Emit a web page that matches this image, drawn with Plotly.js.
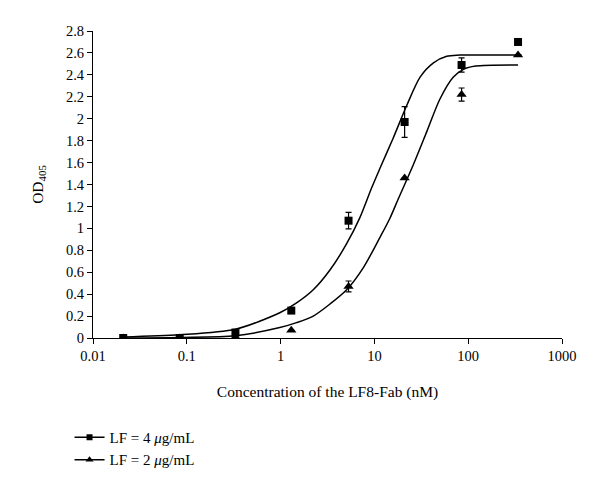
<!DOCTYPE html>
<html>
<head>
<meta charset="utf-8">
<script src="https://cdn.plot.ly/plotly-3.0.1.min.js"></script>
<style>
  body { margin: 0; background: #fff; }
  #chart { width: 600px; height: 488px; }
</style>
</head>
<body>
<div id="chart"></div>
<script>
// measured points (concentration in nM, OD405)
const conc = [0.021, 0.084, 0.33, 1.3, 5.3, 21, 85, 340];
const od4 = [0.0, 0.0, 0.05, 0.25, 1.07, 1.97, 2.49, 2.70];
const err4 = [0, 0, 0, 0, 0.075, 0.14, 0.065, 0.02];
const od2 = [0.0, 0.0, 0.01, 0.07, 0.47, 1.46, 2.22, 2.58];
const err2 = [0, 0, 0, 0, 0.05, 0, 0.06, 0];

// fitted curves
const fit4X = [0.021, 0.084, 0.33, 0.98, 1.48, 2.23, 3.36, 5.06, 7.02, 9.35, 11.5, 15.8, 22.1, 30.7, 42.6, 59, 81, 370];
const fit4Y = [0.01, 0.03, 0.08, 0.23, 0.32, 0.44, 0.62, 0.86, 1.10, 1.37, 1.55, 1.82, 2.12, 2.38, 2.51, 2.57, 2.58, 2.58];
const fit2X = [0.021, 0.084, 0.33, 0.98, 1.48, 2.23, 3.36, 5.06, 7.6, 11.5, 14.6, 18.0, 26.0, 36.1, 50, 69.5, 89, 120, 340];
const fit2Y = [0.0, 0.005, 0.02, 0.095, 0.14, 0.20, 0.31, 0.44, 0.64, 0.92, 1.09, 1.27, 1.58, 1.88, 2.18, 2.38, 2.45, 2.48, 2.49];

const xTicks = [0.01, 0.1, 1, 10, 100, 1000];
const xTickText = ['0.01', '0.1', '1', '10', '100', '1000'];

const font = 'Liberation Serif, Times New Roman, serif';

let traces = [
    {
        x: fit4X, y: fit4Y, mode: 'lines',
        line: {color: '#000', width: 1.5, shape: 'spline', smoothing: 0.8},
        showlegend: false, hoverinfo: 'skip'
    },
    {
        x: fit2X, y: fit2Y, mode: 'lines',
        line: {color: '#000', width: 1.5, shape: 'spline', smoothing: 0.8},
        showlegend: false, hoverinfo: 'skip'
    },
    {
        x: conc, y: od4, mode: 'markers',
        marker: {symbol: 'square', size: 8, color: '#000'},
        error_y: {type: 'data', array: err4, visible: true, color: '#000', thickness: 1.2, width: 3},
        showlegend: false
    },
    {
        x: conc, y: od2, mode: 'markers',
        marker: {symbol: 'triangle-up', size: 9, color: '#000'},
        error_y: {type: 'data', array: err2, visible: true, color: '#000', thickness: 1.2, width: 3},
        showlegend: false
    },
    // legend entries only
    {
        x: [null], y: [null], mode: 'lines+markers', name: 'LF = 4 <i>μ</i>g/mL',
        line: {color: '#000', width: 1.5},
        marker: {symbol: 'square', size: 6, color: '#000'}
    },
    {
        x: [null], y: [null], mode: 'lines+markers', name: 'LF = 2 <i>μ</i>g/mL',
        line: {color: '#000', width: 1.5},
        marker: {symbol: 'triangle-up', size: 7, color: '#000'}
    }
];

let layout = {
    width: 600,
    height: 488,
    margin: {l: 93, r: 38, t: 31, b: 146},
    paper_bgcolor: '#fff',
    plot_bgcolor: '#fff',
    font: {family: font, size: 14.5, color: '#000'},
    xaxis: {
        type: 'log',
        range: [-2, 3],
        tickvals: xTicks,
        ticktext: xTickText,
        ticks: 'outside',
        ticklen: 5,
        tickcolor: '#000',
        showline: true,
        linecolor: '#000',
        linewidth: 1,
        showgrid: false,
        zeroline: false,
        title: {text: 'Concentration of the LF8-Fab (nM)', font: {size: 15.5}, standoff: 22}
    },
    yaxis: {
        range: [0, 2.8],
        dtick: 0.2,
        ticks: 'outside',
        ticklen: 5,
        tickcolor: '#000',
        showline: true,
        linecolor: '#000',
        linewidth: 1,
        showgrid: false,
        zeroline: false,
        title: {text: 'OD<sub>405</sub>', font: {size: 15.5}, standoff: 18}
    },
    legend: {
        x: -0.05, y: -0.27,
        xanchor: 'left', yanchor: 'top',
        font: {size: 15},
        bgcolor: 'rgba(0,0,0,0)',
        tracegroupgap: 0
    }
};

Plotly.newPlot('chart', traces, layout, {staticPlot: true});
</script>
</body>
</html>
